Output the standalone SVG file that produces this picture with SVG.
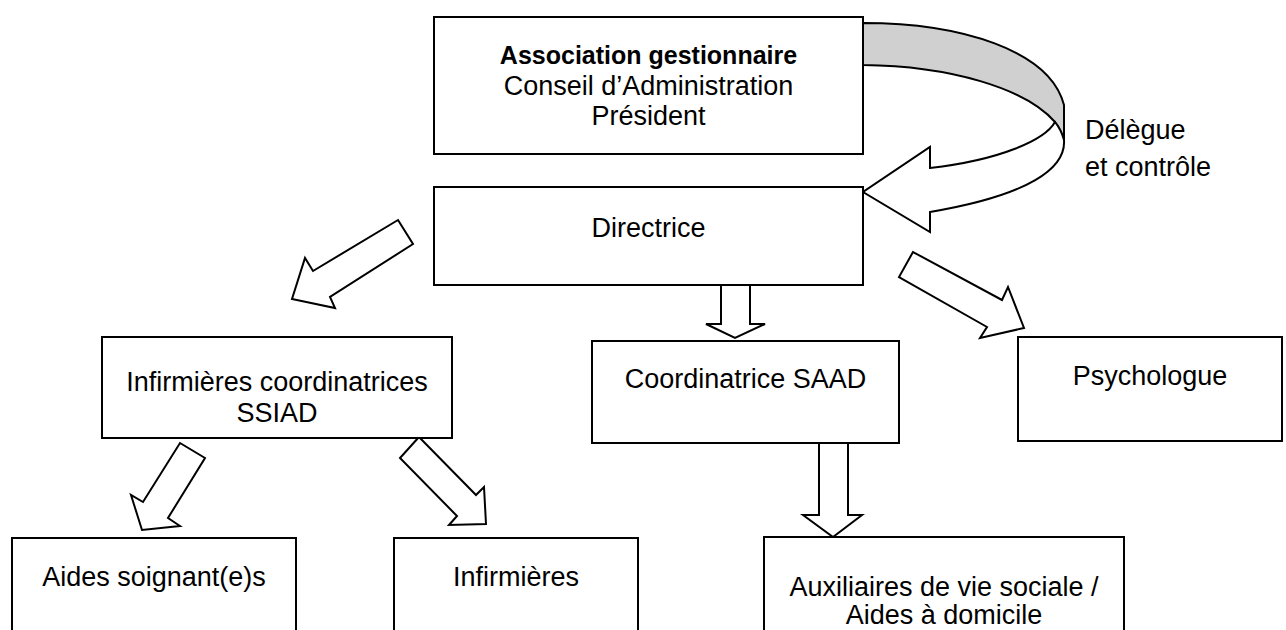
<svg xmlns="http://www.w3.org/2000/svg" width="1286" height="630" viewBox="0 0 1286 630">
<style>
.box{fill:#ffffff;stroke:#000000;stroke-width:2}
.arr{fill:#ffffff;stroke:#000000;stroke-width:2;stroke-linejoin:miter}
.band{fill:#d0d0d0;stroke:#000000;stroke-width:2}
text{font-family:"Liberation Sans",Arial,sans-serif;font-size:27px;fill:#000000}
.c{text-anchor:middle}
.b{font-weight:bold;font-size:25px}
</style>
<rect x="0" y="0" width="1286" height="630" fill="#ffffff"/>
<g id="connectors">
  <g id="curved-arrow">
    <path class="band" d="M863,23 C960,23 1050,50 1064,105 L1064,140 C1062,133 1059,127 1055,122 C1025,88 950,66 863,65 Z"/>
    <path class="arr" d="M1055,122 C1045,140 1000,160 930,168 L930,147 L863,192 L930,232 L930,212 C1030,195 1066,168 1064,140 C1062,133 1059,127 1055,122 Z"/>
  </g>
  <polygon class="arr" points="398,220 413,244 330,297 335,308 292,299 305,258 313,271"/>
  <polygon class="arr" points="721,285 750,285 750,324 765,324 735,338 706,324 721,324"/>
  <polygon class="arr" points="913,252 899,277 987,327 980,338 1024,328 1008,287 1002,300"/>
  <polygon class="arr" points="180,443 205,458 168,518 180,526 142,530 131,495 143,502"/>
  <polygon class="arr" points="419,437 400,458 457,516 449,525 486,524 484,487 476,495"/>
  <polygon class="arr" points="819,443 848,443 848,515 862,515 833,537 803,515 819,515"/>
</g>
<g id="node-association">
  <rect class="box" x="434" y="17" width="429" height="137"/>
  <text class="c b" x="648.5" y="64">Association gestionnaire</text>
  <text class="c" x="648.5" y="95">Conseil d’Administration</text>
  <text class="c" x="648.5" y="125">Président</text>
</g>
<g id="label-delegue">
  <text x="1085" y="139">Délègue</text>
  <text x="1085" y="176">et contrôle</text>
</g>
<g id="node-directrice">
  <rect class="box" x="434" y="187" width="429" height="98"/>
  <text class="c" x="648.5" y="237">Directrice</text>
</g>
<g id="node-infirmieres-coord">
  <rect class="box" x="102" y="337" width="350" height="101"/>
  <text class="c" x="277" y="391">Infirmières coordinatrices</text>
  <text class="c" x="277" y="422">SSIAD</text>
</g>
<g id="node-coordinatrice">
  <rect class="box" x="592" y="341" width="307" height="102"/>
  <text class="c" x="745.5" y="388">Coordinatrice SAAD</text>
</g>
<g id="node-psychologue">
  <rect class="box" x="1018" y="337" width="264" height="104"/>
  <text class="c" x="1150" y="385">Psychologue</text>
</g>
<g id="node-aides-soignants">
  <rect class="box" x="12" y="538" width="284" height="110"/>
  <text class="c" x="154" y="586">Aides soignant(e)s</text>
</g>
<g id="node-infirmieres">
  <rect class="box" x="394" y="538" width="244" height="110"/>
  <text class="c" x="516" y="586">Infirmières</text>
</g>
<g id="node-auxiliaires">
  <rect class="box" x="764" y="537" width="360" height="110"/>
  <text class="c" x="944" y="596">Auxiliaires de vie sociale /</text>
  <text class="c" x="944" y="624">Aides à domicile</text>
</g>
</svg>
